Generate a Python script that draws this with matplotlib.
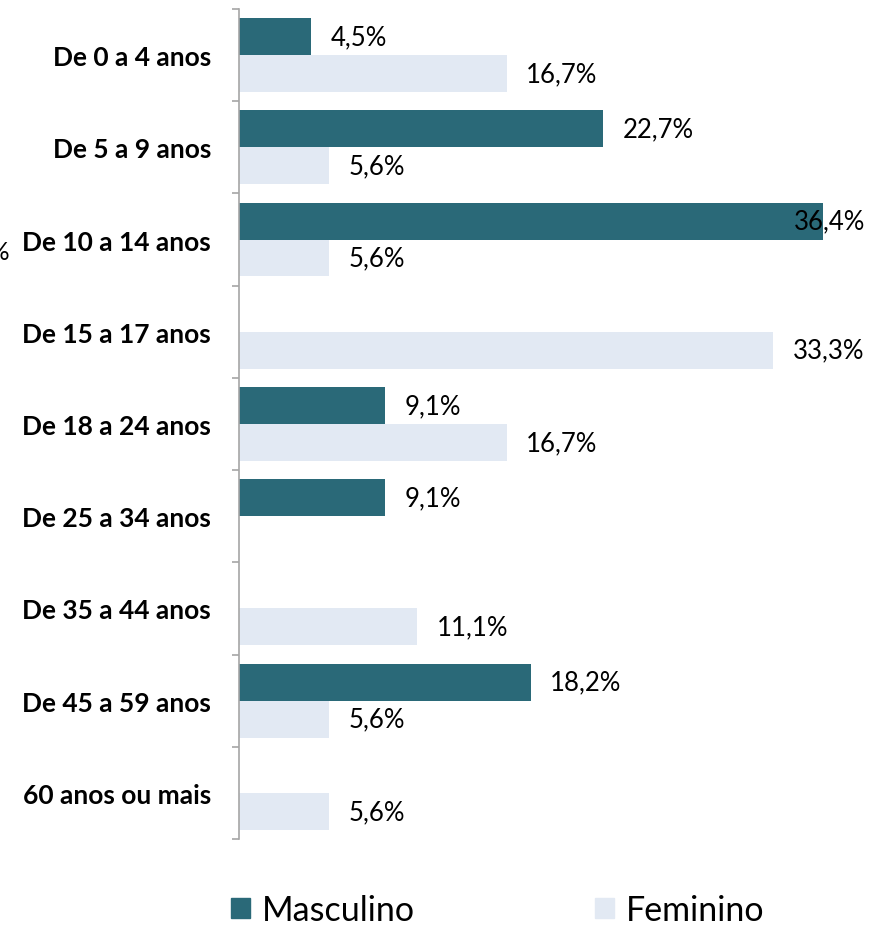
import matplotlib.pyplot as plt
import numpy as np
from matplotlib.patches import Patch

# Data
faixas = ["De 0 a 4 anos", "De 5 a 9 anos", "De 10 a 14 anos", "De 15 a 17 anos",
          "De 18 a 24 anos", "De 25 a 34 anos", "De 35 a 44 anos",
          "De 45 a 59 anos", "60 anos ou mais"]
masculino = [4.5, 22.7, 36.4, 0, 9.1, 9.1, 0, 18.2, 0]
feminino = [16.7, 5.6, 5.6, 33.3, 16.7, 0, 11.1, 5.6, 5.6]

cor_masc = "#2A6978"
cor_fem = "#E2E9F3"

plt.rcParams['font.family'] = ['Lato', 'DejaVu Sans']

fig = plt.figure(figsize=(8.69, 9.28), dpi=100)
ax = fig.add_axes([239 / 869, 1 - 840 / 928, 630 / 869, 830 / 928])

y = np.arange(len(faixas))
h = 0.4
ax.barh(y - h / 2, masculino, height=h, color=cor_masc)
ax.barh(y + h / 2, feminino, height=h, color=cor_fem)

def fmt(v):
    return f"{v:.1f}".replace(".", ",") + "%"

xmax = 39.28
for i in range(len(faixas)):
    for vals, dy in ((masculino, -h / 2), (feminino, h / 2)):
        v = vals[i]
        if v <= 0:
            continue
        if v > 35:
            # label does not fit to the right: pull it back inside the chart
            ax.annotate(fmt(v), (xmax, i + dy), xytext=(-3, 0), textcoords="offset points",
                        va="center", ha="right", fontsize=18.5)
        else:
            ax.annotate(fmt(v), (v, i + dy), xytext=(14, 0), textcoords="offset points",
                        va="center", ha="left", fontsize=18.5)

ax.set_xlim(0, xmax)
ax.set_ylim(len(faixas) - 0.5, -0.5)
ax.set_yticks(y)
ax.set_yticklabels(faixas, fontsize=19, fontweight="bold")
ax.tick_params(axis="y", which="major", length=0, pad=20)
ax.set_yticks(np.arange(-0.5, len(faixas)), minor=True)
ax.tick_params(axis="y", which="minor", length=5, color="#A6A6A6", width=1.2)
ax.set_xticks([])
for s in ["top", "right", "bottom"]:
    ax.spines[s].set_visible(False)
ax.spines["left"].set_color("#A6A6A6")
ax.spines["left"].set_linewidth(1.2)

# clipped leftover label at the left edge
fig.text(-0.028, 1 - 252 / 928, "0%", fontsize=18, va="center", ha="left")

handles = [Patch(color=cor_masc, label="Masculino"), Patch(color=cor_fem, label="Feminino")]
fig.legend(handles=handles, loc="center", bbox_to_anchor=(0.573, 1 - 911 / 928), ncol=2,
           frameon=False, fontsize=24.5, handlelength=0.55, handleheight=0.55,
           handletextpad=0.35, columnspacing=5.3)

fig.savefig("out.png", dpi=100)
